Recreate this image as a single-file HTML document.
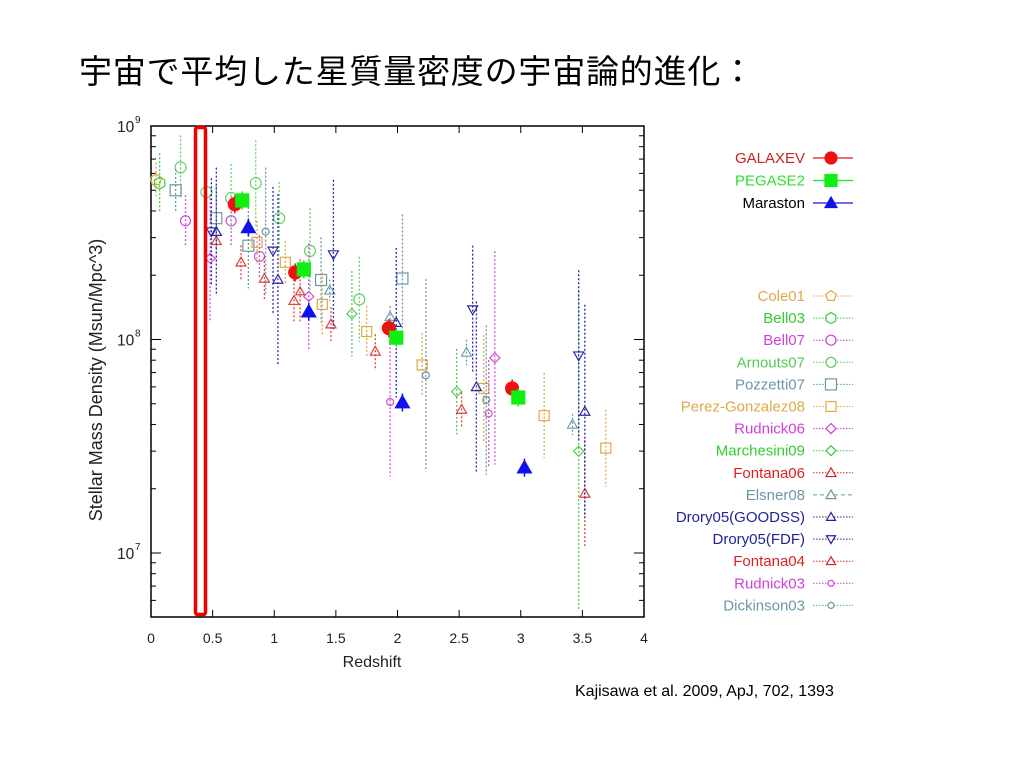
<!DOCTYPE html>
<html><head><meta charset="utf-8"><style>
html,body{margin:0;padding:0;background:#fff;}
body{width:1024px;height:768px;overflow:hidden;position:relative;font-family:"Liberation Sans","Noto Sans CJK JP",sans-serif;}
#title{position:absolute;left:79px;top:45px;font-size:33px;color:#000;font-family:"Liberation Sans","Noto Sans CJK JP",sans-serif;white-space:nowrap;letter-spacing:0.8px;}
#cite{position:absolute;left:575px;top:683px;font-size:16px;color:#000;}
svg{position:absolute;left:0;top:0;}
</style></head><body>
<div id="title">宇宙で平均した星質量密度の宇宙論的進化：</div>
<div id="cite">Kajisawa et al. 2009, ApJ, 702, 1393</div>
<svg id="chart" width="1024" height="768"></svg>
<script>
// density in units of 1e8 Msun/Mpc^3; err in dex
const galaxevZ=[0.68,1.17,1.93,2.93];
const galaxevV=[4.3,2.06,1.13,0.59];
const pegaseZ=[0.74,1.24,1.99,2.98];
const pegaseV=[4.48,2.13,1.02,0.535];
const marastonZ=[0.79,1.28,2.04,3.03];
const marastonV=[3.35,1.35,0.507,0.251];

const cole01Z=[0.04];const cole01V=[5.6];const cole01E=[0.08];
const bell03Z=[0.07];const bell03V=[5.4];const bell03E=[0.14];
const bell07Z=[0.28,0.65,0.88];const bell07V=[3.6,3.6,2.45];const bell07E=[0.12,0.12,0.1];
const arnoutsZ=[0.24,0.45,0.65,0.85,1.04,1.29,1.69];const arnoutsV=[6.4,4.9,4.6,5.4,3.7,2.6,1.54];const arnoutsE=[0.15,0.2,0.16,0.2,0.17,0.2,0.2];
const pozzettiZ=[0.2,0.53,0.79,1.38,2.04];const pozzettiV=[5.0,3.7,2.75,1.9,1.93];const pozzettiE=[0.1,0.15,0.2,0.2,0.3];
const perezZ=[0.86,1.09,1.39,1.75,2.2,2.7,3.19,3.69];const perezV=[2.85,2.3,1.46,1.09,0.76,0.59,0.44,0.31];const perezE=[0.1,0.1,0.15,0.12,0.15,0.25,0.2,0.18];
const rudnick06Z=[0.48,1.28,2.79];const rudnick06V=[2.4,1.59,0.82];const rudnick06E=[0.3,0.25,0.5];
const marchesiniZ=[1.63,2.48,3.47];const marchesiniV=[1.32,0.57,0.30];const marchesiniE=[0.2,0.2,0.75];
const fontana06Z=[0.53,0.73,0.92,1.16,1.46,1.82,2.52,3.52];const fontana06V=[2.9,2.3,1.93,1.52,1.18,0.88,0.47,0.19];const fontana06E=[0.1,0.08,0.1,0.1,0.08,0.08,0.08,0.25];
const elsnerZ=[1.45,1.94,2.56,3.42];const elsnerV=[1.7,1.28,0.87,0.40];const elsnerE=[0.05,0.05,0.06,0.05];
const drory05gZ=[0.53,1.03,1.99,2.64,3.52];const drory05gV=[3.2,1.91,1.2,0.60,0.46];const drory05gE=[0.3,0.4,0.35,0.4,0.5];
const drory05fZ=[0.49,0.99,1.48,2.61,3.47];const drory05fV=[3.2,2.6,2.5,1.38,0.84];const drory05fE=[0.25,0.3,0.35,0.3,0.4];
const fontana04Z=[1.21];const fontana04V=[1.68];const fontana04E=[0.15];
const rudnick03Z=[1.94,2.74];const rudnick03V=[0.51,0.45];const rudnick03E=[0.35,0.25];
const dickinsonZ=[0.93,2.23,2.72];const dickinsonV=[3.2,0.68,0.52];const dickinsonE=[0.3,0.45,0.35];

const xTicks=[0,0.5,1,1.5,2,2.5,3,3.5,4];
const xTickLabels=["0","0.5","1","1.5","2","2.5","3","3.5","4"];

const NS="http://www.w3.org/2000/svg";
const svg=document.getElementById('chart');
const L=151,R=644,T=126,B=617;
const xs=z=>L+z*(R-L)/4;
const ys=v=>553-(Math.log10(v*1e8)-7)*213.5;
function mk(tag,attrs,parent){const e=document.createElementNS(NS,tag);for(const k in attrs)e.setAttribute(k,attrs[k]);(parent||svg).appendChild(e);return e;}

const frame=mk('rect',{x:L,y:T,width:R-L,height:B-T,fill:'none',stroke:'#000','stroke-width':1.5});


xTicks.forEach((t,i)=>{
  mk('line',{x1:xs(t),x2:xs(t),y1:B,y2:B-7,stroke:'#000'});
  mk('line',{x1:xs(t),x2:xs(t),y1:T,y2:T+7,stroke:'#000'});
  const tx=mk('text',{x:xs(t),y:643,'font-size':14,'text-anchor':'middle',fill:'#222'});
  tx.textContent=xTickLabels[i];
  
  
});
for(let d=6;d<=8;d++){for(let m=1;m<=9;m++){const v=m*Math.pow(10,d)/1e8;const y=ys(v);if(y<T-0.5||y>B)continue;const len=m===1?10:5;
  mk('line',{x1:L,x2:L+len,y1:y,y2:y,stroke:'#000'});mk('line',{x1:R,x2:R-len,y1:y,y2:y,stroke:'#000'});}}
const yExp=[9,8,7];
yExp.forEach(e=>{const y=ys(Math.pow(10,e)/1e8);
  const t=mk('text',{x:117,y:y+6,'font-size':15.5,fill:'#222'});t.textContent='10';
  
  
  const s=mk('text',{x:135,y:y-3,'font-size':10,fill:'#222'});s.textContent=String(e);});
const xl=mk('text',{x:372,y:667,'font-size':16,'text-anchor':'middle',fill:'#222'});xl.textContent='Redshift';


const yl=mk('text',{x:0,y:0,'font-size':18,'text-anchor':'middle',fill:'#222',transform:'translate(102,380) rotate(-90)','xml:space':'preserve'});yl.textContent='Stellar Mass Density  (Msun/Mpc^3)';



function marker(kind,cx,cy,r,color,filled,g){
  const f=filled?color:'none';let e;
  if(kind==='circle')e=mk('circle',{cx,cy,r,fill:f,stroke:color,'stroke-width':1.2},g);
  else if(kind==='square')e=mk('rect',{x:cx-r,y:cy-r,width:2*r,height:2*r,fill:f,stroke:color,'stroke-width':1.2},g);
  else if(kind==='tri')e=mk('polygon',{points:`${cx},${cy-r} ${cx-r},${cy+r*0.75} ${cx+r},${cy+r*0.75}`,fill:f,stroke:color,'stroke-width':1.2},g);
  else if(kind==='dtri')e=mk('polygon',{points:`${cx},${cy+r} ${cx-r},${cy-r*0.75} ${cx+r},${cy-r*0.75}`,fill:f,stroke:color,'stroke-width':1.2},g);
  else if(kind==='diamond')e=mk('polygon',{points:`${cx},${cy-r} ${cx+r},${cy} ${cx},${cy+r} ${cx-r},${cy}`,fill:f,stroke:color,'stroke-width':1.2},g);
  else if(kind==='pent'||kind==='hex'){const n=kind==='pent'?5:6;let p=[];for(let i=0;i<n;i++){const a=-Math.PI/2+i*2*Math.PI/n;p.push((cx+r*Math.cos(a)).toFixed(1)+','+(cy+r*Math.sin(a)).toFixed(1));}e=mk('polygon',{points:p.join(' '),fill:f,stroke:color,'stroke-width':1.2},g);}
  return e;
}
function series(name,Z,V,E,kind,color,r){
  const g=mk('g',{});
  
  
  Z.forEach((z,i)=>{const x=xs(z),y=ys(V[i]);
    if(E){const e=E[i];mk('line',{x1:x,x2:x,y1:ys(V[i]*Math.pow(10,e)),y2:ys(V[i]/Math.pow(10,e)),stroke:color,'stroke-width':1.3,'stroke-dasharray':'2,2'},g);}
    const m=marker(kind,x,y,r,color,false,g);
    
    
  });
}
series('cole01-series',cole01Z,cole01V,cole01E,'pent','#e0a848',6);
series('bell03-series',bell03Z,bell03V,bell03E,'hex','#44cc44',6);
series('bell07-series',bell07Z,bell07V,bell07E,'circle','#d050d8',5);
series('arnouts07-series',arnoutsZ,arnoutsV,arnoutsE,'circle','#66d066',5.5);
series('pozzetti07-series',pozzettiZ,pozzettiV,pozzettiE,'square','#6a98a8',5.5);
series('perez-gonzalez08-series',perezZ,perezV,perezE,'square','#e0a848',5);
series('rudnick06-series',rudnick06Z,rudnick06V,rudnick06E,'diamond','#d050d8',5);
series('marchesini09-series',marchesiniZ,marchesiniV,marchesiniE,'diamond','#55cc55',5);
series('fontana06-series',fontana06Z,fontana06V,fontana06E,'tri','#e04040',5);
series('elsner08-series',elsnerZ,elsnerV,elsnerE,'tri','#70a0b0',5);
series('drory05-goodss-series',drory05gZ,drory05gV,drory05gE,'tri','#2828a8',5);
series('drory05-fdf-series',drory05fZ,drory05fV,drory05fE,'dtri','#2828a8',5);
series('fontana04-series',fontana04Z,fontana04V,fontana04E,'tri','#e04040',4.5);
series('rudnick03-series',rudnick03Z,rudnick03V,rudnick03E,'circle','#d050d8',3.5);
series('dickinson03-series',dickinsonZ,dickinsonV,dickinsonE,'circle','#6a98a8',3.5);

function model(name,Z,V,kind,color){
  const g=mk('g',{});
  
  
  Z.forEach((z,i)=>{const x=xs(z),y=ys(V[i]);
    mk('line',{x1:x,x2:x,y1:y-9,y2:y+9,stroke:color,'stroke-width':1.5},g);
    const m=marker(kind,x,y,kind==='tri'?7:6.5,color,true,g);
    
    
  });
}
model('galaxev-series',galaxevZ,galaxevV,'circle','#ee1111');
model('pegase2-series',pegaseZ,pegaseV,'square','#11ee11');
model('maraston-series',marastonZ,marastonV,'tri','#1111ee');

const hb=mk('rect',{x:195.5,y:127.5,width:10,height:487,rx:2,fill:'none',stroke:'#ee0000','stroke-width':3.5});



const modelNames=['GALAXEV','PEGASE2','Maraston'];
const modelText=['#cc2222','#33dd33','#000'];
const modelCol=['#ee1111','#11ee11','#1111ee'];
const modelKind=['circle','square','tri'];
modelNames.forEach((n,i)=>{const y=158+i*22.5;
  const t=mk('text',{x:805,y:y+5,'font-size':15,'text-anchor':'end',fill:modelText[i]});t.textContent=n;
  
  
  mk('line',{x1:813,x2:853,y1:y,y2:y,stroke:modelCol[i],'stroke-width':1.3});
  marker(modelKind[i],831,y,6,modelCol[i],true);
});
const obsNames=['Cole01','Bell03','Bell07','Arnouts07','Pozzetti07','Perez-Gonzalez08','Rudnick06','Marchesini09','Fontana06','Elsner08','Drory05(GOODSS)','Drory05(FDF)','Fontana04','Rudnick03','Dickinson03'];
const obsText=['#e0a848','#33cc33','#d040d8','#55cc55','#6a98a8','#e0a848','#d040d8','#33cc33','#dd2222','#6a98a8','#222299','#222299','#dd2222','#d040d8','#6a98a8'];
const obsKind=['pent','hex','circle','circle','square','square','diamond','diamond','tri','tri','tri','dtri','tri','circle','circle'];
const obsR=[5.5,5.5,5,5,5.5,5,5,5,5,5,4.5,4.5,4.5,3,3];
obsNames.forEach((n,i)=>{const y=296+i*22.1;
  const t=mk('text',{x:805,y:y+5,'font-size':15,'text-anchor':'end',fill:obsText[i]});t.textContent=n;
  
  
  mk('line',{x1:813,x2:853,y1:y,y2:y,stroke:obsText[i],'stroke-width':1,'stroke-dasharray':i===9?'4,3':'1.5,1.5'});
  const m=marker(obsKind[i],831,y,obsR[i],obsText[i],false);m.setAttribute('fill','#fff');
});
</script>
</body></html>
